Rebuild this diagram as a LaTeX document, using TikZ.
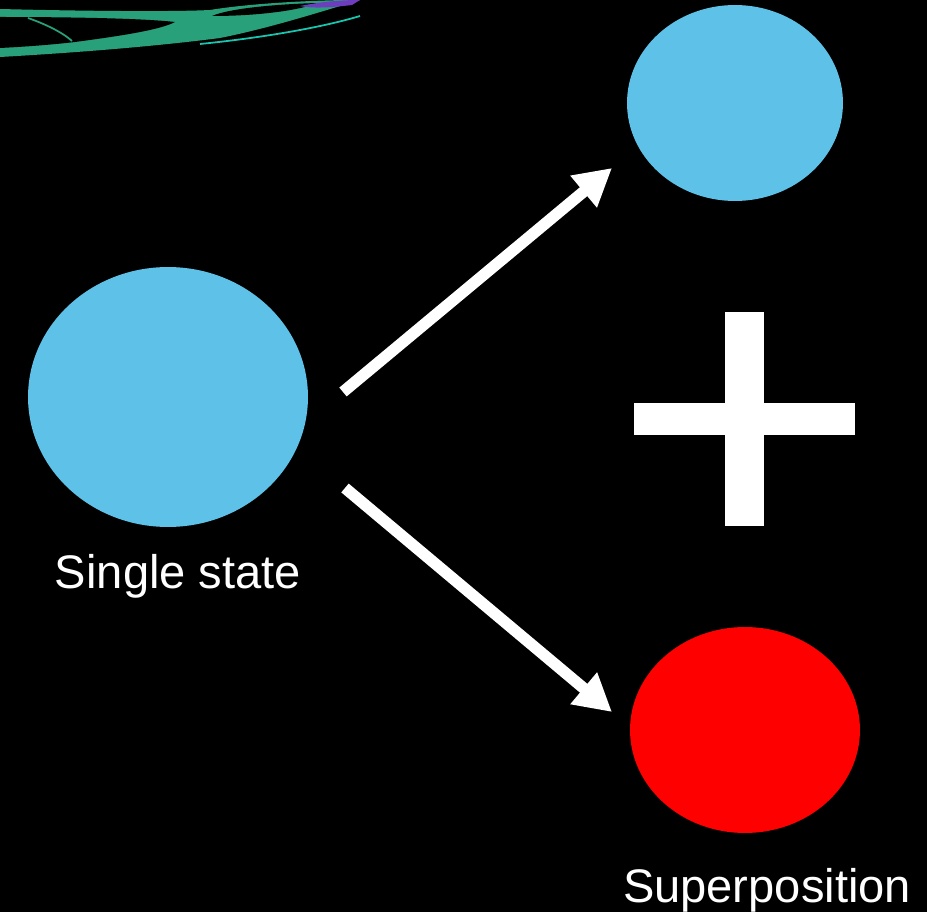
\documentclass[tikz,border=0pt]{standalone}
\usepackage{fontspec}
\setmainfont{Liberation Sans}
\usetikzlibrary{shapes.geometric,arrows.meta}
\definecolor{qblue}{RGB}{93,193,232}
\definecolor{qred}{RGB}{255,0,0}
\definecolor{swoosh}{RGB}{40,160,122}
\definecolor{swirl}{RGB}{110,60,190}
\begin{document}
\begin{tikzpicture}[x=0.02cm,y=-0.02cm,
  state/.style={ellipse,inner sep=0pt},
  flow/.style={white,line width=0.23cm,-{Triangle[length=0.74cm,width=0.78cm]}},
  caption/.style={white,anchor=base,font=\fontsize{26.8}{32}\selectfont}]
\fill[black] (0,0) rectangle (927,912);
\useasboundingbox (0,0) rectangle (927,912);
% swirl in the corner
\fill[swoosh] (0,9) .. controls (80,11) and (170,12) .. (210,10) .. controls (240,5) and (290,1) .. (345,0) -- (360,0) .. controls (320,12) and (270,28) .. (220,38) .. controls (150,47) and (70,53) .. (0,57) -- cycle;
\fill[black] (0,17) .. controls (60,17) and (140,18) .. (175,22) .. controls (160,30) and (120,36) .. (75,42) .. controls (50,45) and (20,47) .. (0,48) -- cycle;
\fill[black] (212,16) .. controls (230,8) and (280,4) .. (318,3) .. controls (300,10) and (260,16) .. (212,16) -- cycle;
\draw[swoosh,line width=1pt] (28,18) .. controls (45,24) and (62,32) .. (72,41);
\draw[swoosh!60!cyan,line width=1pt] (200,44) .. controls (260,38) and (320,28) .. (360,16);
\fill[swirl] (300,6) .. controls (320,2) and (340,0) .. (360,0) -- (352,5) .. controls (335,7) and (315,9) .. (300,6) -- cycle;
\node[state,fill=qblue,minimum width=5.6cm,minimum height=5.2cm] (single) at (168,397) {};
\node[state,fill=qblue,minimum width=4.32cm,minimum height=3.92cm] (upstate) at (735,103) {};
\node[state,fill=qred,minimum width=4.6cm,minimum height=4.12cm] (downstate) at (745,730) {};
\node[caption] (singlelabel) at (178,588) {Single state};
\node[caption] (superlabel) at (767,902) {Superposition};
\coordinate (upstart) at (343,392);
\coordinate (upend) at (612,168);
\coordinate (downstart) at (345,488);
\coordinate (downend) at (612,712);
\draw[flow] (upstart) -- (upend);
\draw[flow] (downstart) -- (downend);
% plus sign
\fill[white] (725,312) rectangle (764,526);
\fill[white] (634,403) rectangle (855,435);
\end{tikzpicture}
\end{document}
